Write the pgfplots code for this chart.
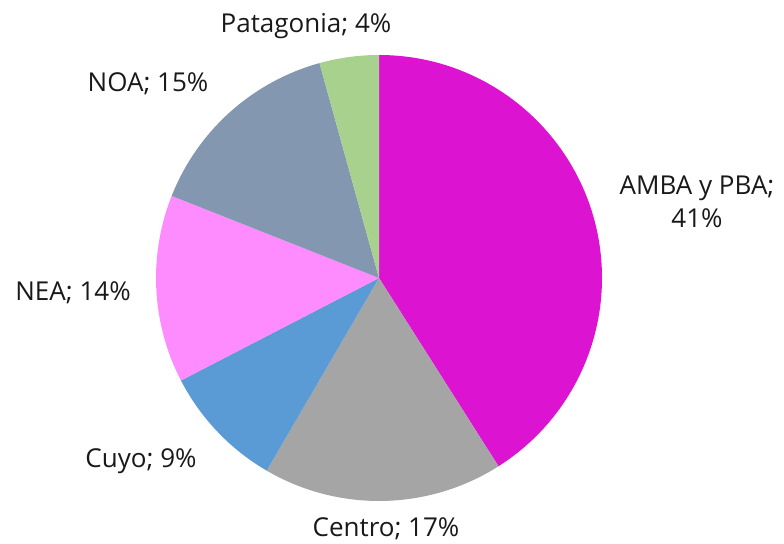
\documentclass[border=0pt]{standalone}
\usepackage{fontspec}
\setmainfont{Open Sans}
\usepackage{pgfplots}
\usepackage{pgfplotstable}
\pgfplotsset{compat=1.18}

\definecolor{cAMBA}{RGB}{220,20,210}
\definecolor{cCentro}{RGB}{165,165,165}
\definecolor{cCuyo}{RGB}{91,155,213}
\definecolor{cNEA}{RGB}{255,140,255}
\definecolor{cNOA}{RGB}{132,151,176}
\definecolor{cPatagonia}{RGB}{169,209,142}
\definecolor{txt}{RGB}{25,25,25}

% share per region (%), clockwise from the top
\pgfplotstableread[col sep=comma]{
name,value,color
AMBA y PBA,41.0,cAMBA
Centro,17.4,cCentro
Cuyo,9.0,cCuyo
NEA,13.6,cNEA
NOA,14.7,cNOA
Patagonia,4.3,cPatagonia
}\piedata

\begin{document}
\begin{tikzpicture}
\begin{axis}[
  width=784pt, height=542pt, scale only axis,
  xmin=0, xmax=784, ymin=0, ymax=542,
  hide axis, clip=false,
]
\path (axis cs:0,0) rectangle (axis cs:784,542);
\def\cx{379}\def\cy{264}\def\r{223pt}
\gdef\start{90}
\pgfplotsforeachungrouped \i in {0,...,5}{%
  \pgfplotstablegetelem{\i}{value}\of\piedata \let\val\pgfplotsretval
  \pgfplotstablegetelem{\i}{color}\of\piedata \let\col\pgfplotsretval
  \pgfmathsetmacro\stop{\start-3.6*\val}%
  \edef\temp{\noexpand\fill[\col] (axis cs:\cx,\cy) -- ++(\start:\r)
    arc[start angle=\start, end angle=\stop, radius=\r] -- cycle;}%
  \temp
  \global\let\start\stop
}
\begin{scope}[font=\fontsize{26}{30}\selectfont, text=txt]
\node at (axis cs:306,516) {Patagonia; 4\%};
\node at (axis cs:148,458) {NOA; 15\%};
\node at (axis cs:73,249) {NEA; 14\%};
\node at (axis cs:141,81) {Cuyo; 9\%};
\node at (axis cs:386,13) {Centro; 17\%};
\node[align=center, font=\fontsize{26}{33}\selectfont] at (axis cs:697,340) {AMBA y PBA;\\41\%};
\end{scope}
\end{axis}
\end{tikzpicture}
\end{document}
